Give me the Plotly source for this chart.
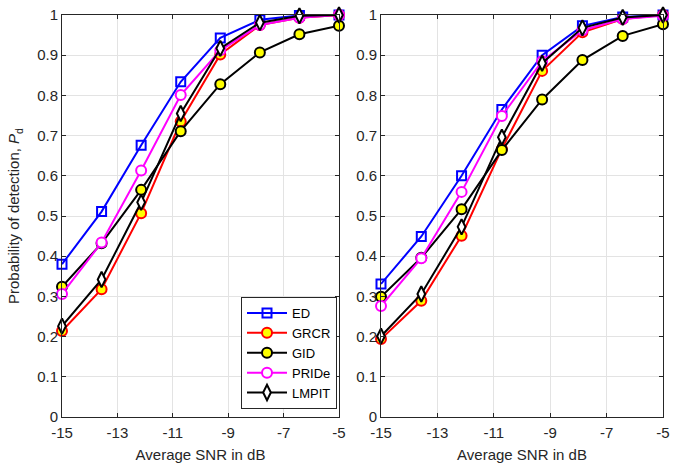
import plotly.graph_objects as go

snr = [-15, -13.571, -12.143, -10.714, -9.286, -7.857, -6.429, -5]

# Left panel
ed_l    = [0.380, 0.511, 0.676, 0.834, 0.943, 0.988, 0.999, 1.000]
grcr_l  = [0.214, 0.318, 0.507, 0.735, 0.902, 0.975, 0.993, 1.000]
gid_l   = [0.324, 0.432, 0.565, 0.711, 0.828, 0.907, 0.952, 0.973]
pride_l = [0.306, 0.434, 0.613, 0.801, 0.912, 0.975, 0.993, 1.000]
lmpit_l = [0.226, 0.342, 0.534, 0.755, 0.917, 0.981, 0.998, 1.000]

# Right panel
ed_r    = [0.331, 0.449, 0.600, 0.765, 0.900, 0.973, 0.995, 1.000]
grcr_r  = [0.194, 0.289, 0.451, 0.667, 0.861, 0.957, 0.990, 1.000]
gid_r   = [0.299, 0.396, 0.517, 0.664, 0.790, 0.888, 0.948, 0.977]
pride_r = [0.276, 0.395, 0.560, 0.749, 0.885, 0.962, 0.990, 0.998]
lmpit_r = [0.201, 0.306, 0.473, 0.696, 0.880, 0.968, 0.994, 1.000]

names = ["ED", "GRCR", "GID", "PRIDe", "LMPIT"]
x_ticks = [-15, -13, -11, -9, -7, -5]
x_ticklabels = ["-15", "-13", "-11", "-9", "-7", "-5"]
y_ticks = [0, 0.1, 0.2, 0.3, 0.4, 0.5, 0.6, 0.7, 0.8, 0.9, 1]
y_ticklabels = ["0", "0.1", "0.2", "0.3", "0.4", "0.5", "0.6", "0.7", "0.8", "0.9", "1"]

styles = {
    "ED":    dict(line="#0000ff", symbol="square-open", fill="#0000ff", edge="#0000ff", size=9),
    "GRCR":  dict(line="#ff0000", symbol="circle", fill="#ffff00", edge="#ff0000", size=10),
    "GID":   dict(line="#000000", symbol="circle", fill="#ffff00", edge="#000000", size=10),
    "PRIDe": dict(line="#ff00ff", symbol="circle", fill="#ffffff", edge="#ff00ff", size=10),
    "LMPIT": dict(line="#000000", symbol="diamond-tall", fill="#ffffff", edge="#000000", size=11),
}

fig = go.Figure()
panels = [
    ("x", "y", [ed_l, grcr_l, gid_l, pride_l, lmpit_l], True),
    ("x2", "y2", [ed_r, grcr_r, gid_r, pride_r, lmpit_r], False),
]
for xa, ya, series, show in panels:
    for name, vals in zip(names, series):
        s = styles[name]
        fig.add_trace(go.Scatter(
            x=snr, y=vals, name=name, mode="lines+markers",
            xaxis=xa, yaxis=ya, showlegend=show, cliponaxis=False,
            line=dict(color=s["line"], width=2),
            marker=dict(symbol=s["symbol"], size=s["size"], color=s["fill"],
                        line=dict(color=s["edge"], width=2)),
        ))

W, H = 673, 466

axis_common = dict(
    showline=True, linecolor="#262626", linewidth=1, mirror="ticks",
    ticks="inside", ticklen=4, tickcolor="#262626", automargin=False,
    ticklabeloverflow="allow",
    showgrid=True, gridcolor="#e3e3e3", gridwidth=1, zeroline=False,
    tickfont=dict(family="Liberation Sans, Arial", size=15, color="#262626"),
)
ydom = [(H - 417) / H, (H - 15) / H]
xtitle = dict(text="Average SNR in dB", font=dict(size=15, color="#262626"), standoff=9)

fig.update_layout(
    width=W, height=H,
    margin=dict(l=0, r=0, t=0, b=0, autoexpand=False),
    paper_bgcolor="white", plot_bgcolor="white",
    font=dict(family="Liberation Sans, Arial", color="#262626"),
    xaxis=dict(domain=[62 / W, 339 / W], range=[-15, -5], tickvals=x_ticks,
               ticktext=x_ticklabels, title=xtitle, ticklabelstandoff=2, **axis_common),
    yaxis=dict(domain=ydom, range=[0, 1], tickvals=y_ticks, ticktext=y_ticklabels,
               title=dict(text="Probability of detection, <i>P</i><sub>d</sub>",
                          font=dict(size=15, color="#262626"), standoff=13),
               anchor="x", ticklabelstandoff=0, **axis_common),
    xaxis2=dict(domain=[381 / W, 663 / W], range=[-15, -5], tickvals=x_ticks,
                ticktext=x_ticklabels, anchor="y2", title=xtitle, ticklabelstandoff=2,
                **axis_common),
    yaxis2=dict(domain=ydom, range=[0, 1], tickvals=y_ticks, ticktext=y_ticklabels,
                anchor="x2", ticklabelstandoff=0, **axis_common),
    legend=dict(x=337 / W, y=(H - 409) / H, xanchor="right", yanchor="bottom",
                bgcolor="white", bordercolor="#262626", borderwidth=1,
                font=dict(family="Liberation Sans, Arial", size=13, color="#000000"),
                tracegroupgap=0, itemwidth=40),
)

fig.write_html("out.html", config={"displayModeBar": False},
               post_script="document.body.style.margin='0px';")
